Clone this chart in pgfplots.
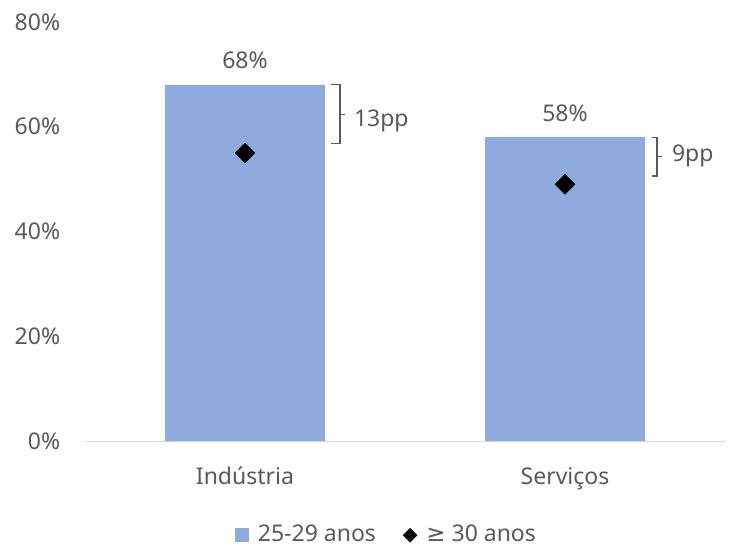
\documentclass[border=0pt]{standalone}
\usepackage{fontspec}
\setmainfont{Noto Sans}
\newfontfamily\symfont{DejaVu Sans}
\usepackage{pgfplots}
\pgfplotsset{compat=1.18}
\definecolor{barblue}{HTML}{8FAADC}
\definecolor{txtgray}{HTML}{595959}
\definecolor{axgray}{HTML}{D9D9D9}
\newcommand{\chartfont}{\fontsize{23bp}{27bp}\selectfont}

\begin{document}
\chartfont
\begin{tikzpicture}
\useasboundingbox (-85bp,-106bp) rectangle (645bp,441bp);
\begin{axis}[
  scale only axis, width=640bp, height=419bp,
  xmin=-0.5, xmax=1.5, ymin=0, ymax=80,
  clip=false,
  axis x line*=bottom, axis y line*=left,
  y axis line style={draw=none},
  x axis line style={axgray, line width=1bp},
  major tick length=0pt,
  /pgf/number format/assume math mode=true,
  ytick={0,20,40,60,80},
  yticklabel={\pgfmathprintnumber{\tick}\%},
  yticklabel style={anchor=east, xshift=-17bp},
  xtick={0,1}, xticklabels={Indústria,Serviços},
  xticklabel style={anchor=base, yshift=-43bp},
  tick label style={text=txtgray, font=\chartfont},
  legend columns=2,
  legend style={at={(0.471,-0.225)}, anchor=center, draw=none, fill=none,
    font=\chartfont, text=txtgray,
    /tikz/every odd column/.style={column sep=7bp},
    /tikz/every even column/.style={column sep=25bp}},
]
% 25-29 anos
\addplot[ybar, bar width=160bp, fill=barblue, draw=none,
  nodes near coords={\pgfmathprintnumber{\pgfplotspointmeta}\%},
  nodes near coords style={text=txtgray, font=\chartfont, anchor=south, yshift=8bp},
  legend image code/.code={\fill[barblue] (0bp,-7bp) rectangle (14bp,7bp);}]
  coordinates {(0,68) (1,58)};
\addlegendentry{25-29 anos}
% 30 anos ou mais
\addplot[only marks, mark=square*, mark size=7bp,
  mark options={rotate=45, fill=black, draw=black},
  legend image code/.code={\fill[black] (0bp,0bp) -- (7bp,7bp) -- (14bp,0bp) -- (7bp,-7bp) -- cycle;}]
  coordinates {(0,55) (1,49)};
\addlegendentry{{\symfont ≥} 30 anos}

% brackets for the gap between the groups
\draw[txtgray, line width=1.2bp]
  (axis cs:0.269,68) -- (axis cs:0.297,68) -- (axis cs:0.297,56.8) -- (axis cs:0.269,56.8)
  (axis cs:0.297,62.4) -- (axis cs:0.3125,62.4);
\node[anchor=west, inner sep=0pt, text=txtgray, font=\chartfont] at (axis cs:0.34,61.2) {13pp};
\draw[txtgray, line width=1.2bp]
  (axis cs:1.271,58) -- (axis cs:1.2875,58) -- (axis cs:1.2875,50.6) -- (axis cs:1.271,50.6)
  (axis cs:1.2875,54.3) -- (axis cs:1.303,54.3);
\node[anchor=west, inner sep=0pt, text=txtgray, font=\chartfont] at (axis cs:1.334,54.4) {9pp};
\end{axis}
\end{tikzpicture}
\end{document}
